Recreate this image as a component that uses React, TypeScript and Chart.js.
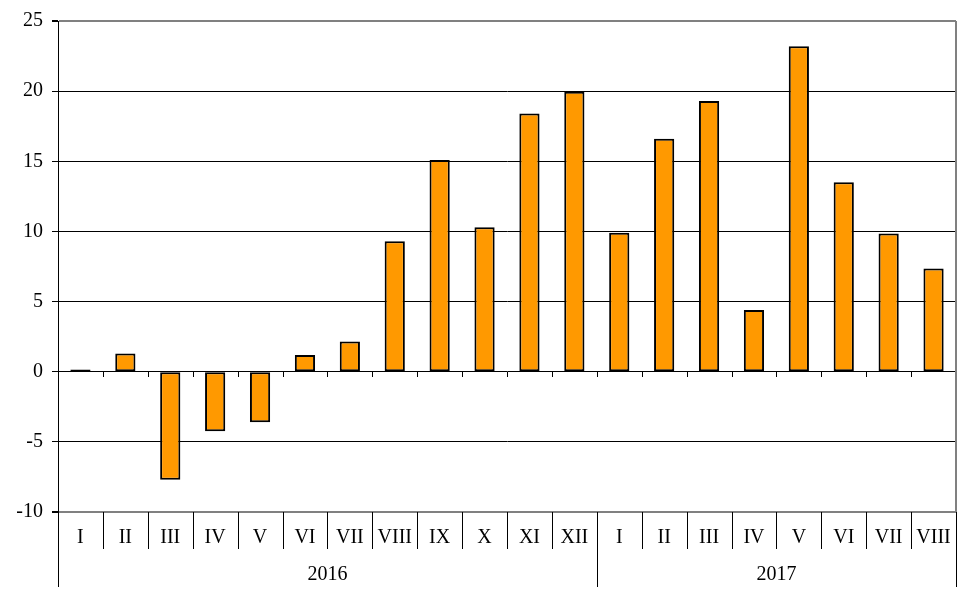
import React, { useEffect, useRef } from "react";
import { Chart, registerables } from "chart.js";

Chart.register(...registerables);

const months = ["I", "II", "III", "IV", "V", "VI", "VII", "VIII", "IX", "X", "XI", "XII", "I", "II", "III", "IV", "V", "VI", "VII", "VIII"];
const years = ["2016", "2017"];
const yearSpans = [12, 8];
const values = [0.15, 1.3, -7.7, -4.25, -3.6, 1.2, 2.15, 9.3, 15.1, 10.3, 18.4, 19.95, 9.9, 16.6, 19.3, 4.4, 23.2, 13.5, 9.85, 7.35];
const yTicks = [25, 20, 15, 10, 5, 0, -5, -10];

const FONT = "'Liberation Serif', 'Times New Roman', serif";

const belowAxis = {
  id: "belowAxis",
  afterDatasetsDraw(chart: any) {
    const { ctx, chartArea, scales } = chart;
    const x = scales.x;
    const y = scales.y;
    const n = months.length;
    const half = (x.getPixelForValue(1) - x.getPixelForValue(0)) / 2;
    const bound = (i: number) => (i < n ? x.getPixelForValue(i) - half : x.getPixelForValue(n - 1) + half);
    const bottom = chartArea.bottom;
    const zeroY = Math.round(y.getPixelForValue(0));
    ctx.save();
    // right border
    ctx.strokeStyle = "#808080";
    ctx.lineWidth = 2;
    ctx.beginPath();
    ctx.moveTo(chartArea.right, chartArea.top);
    ctx.lineTo(chartArea.right, chartArea.bottom);
    ctx.stroke();
    // ticks at zero line
    ctx.strokeStyle = "#000";
    ctx.lineWidth = 1;
    for (let i = 1; i < n; i++) {
      const bx = Math.round(bound(i)) + 0.5;
      ctx.beginPath();
      ctx.moveTo(bx, zeroY);
      ctx.lineTo(bx, zeroY + 5);
      ctx.stroke();
    }
    // month separators
    for (let i = 1; i < n; i++) {
      const bx = Math.round(bound(i)) + 0.5;
      ctx.beginPath();
      ctx.moveTo(bx, bottom);
      ctx.lineTo(bx, bottom + 37);
      ctx.stroke();
    }
    // year separators
    let acc = 0;
    const yb = [0];
    yearSpans.forEach((s) => {
      acc += s;
      yb.push(acc);
    });
    yb.forEach((i) => {
      const bx = Math.round(bound(i)) + 0.5;
      ctx.beginPath();
      ctx.moveTo(bx, bottom);
      ctx.lineTo(bx, bottom + 75);
      ctx.stroke();
    });
    ctx.fillStyle = "#000";
    ctx.font = `20px ${FONT}`;
    ctx.textAlign = "center";
    ctx.textBaseline = "middle";
    months.forEach((m, i) => {
      ctx.fillText(m, x.getPixelForValue(i), bottom + 26);
    });
    years.forEach((yr, k) => {
      const cx = (bound(yb[k]) + bound(yb[k + 1])) / 2;
      ctx.fillText(yr, cx, bottom + 63);
    });
    ctx.restore();
  },
};

export default function App() {
  const ref = useRef<HTMLCanvasElement>(null);
  useEffect(() => {
    document.body.style.margin = "0";
    const chart = new Chart(ref.current!, {
      type: "bar",
      data: {
        labels: months.map((m, i) => `${m}-${i}`),
        datasets: [
          {
            data: values,
            backgroundColor: "#FF9900",
            borderColor: "#000000",
            borderWidth: 2,
            borderSkipped: false,
            barPercentage: 0.45,
            categoryPercentage: 1,
          },
        ],
      },
      options: {
        animation: false,
        responsive: false,
        maintainAspectRatio: false,
        layout: { padding: { top: 21, right: 22, bottom: 84, left: 0 } },
        plugins: { legend: { display: false }, tooltip: { enabled: false } },
        scales: {
          x: { display: false, offset: true },
          y: {
            min: -10,
            max: 25,
            afterFit: (s: any) => {
              s.width = 58;
            },
            afterBuildTicks: (s: any) => {
              s.ticks = yTicks.map((v) => ({ value: v }));
            },
            border: { display: true, color: "#000", width: 1 },
            grid: {
              color: (c: any) => (c.tick && (c.tick.value === 25 || c.tick.value === -10) ? "#808080" : "#000"),
              lineWidth: (c: any) => (c.tick && (c.tick.value === 25 || c.tick.value === -10) ? 2 : 1),
              tickColor: "#000",
              tickLength: 6,
              drawTicks: true,
            },
            ticks: {
              color: "#000",
              padding: 9,
              font: { family: FONT, size: 20 },
            },
          },
        },
      },
      plugins: [belowAxis],
    });
    return () => chart.destroy();
  }, []);
  return (
    <div style={{ width: 978, height: 596 }}>
      <canvas ref={ref} width={978} height={596} style={{ display: "block" }} />
    </div>
  );
}
